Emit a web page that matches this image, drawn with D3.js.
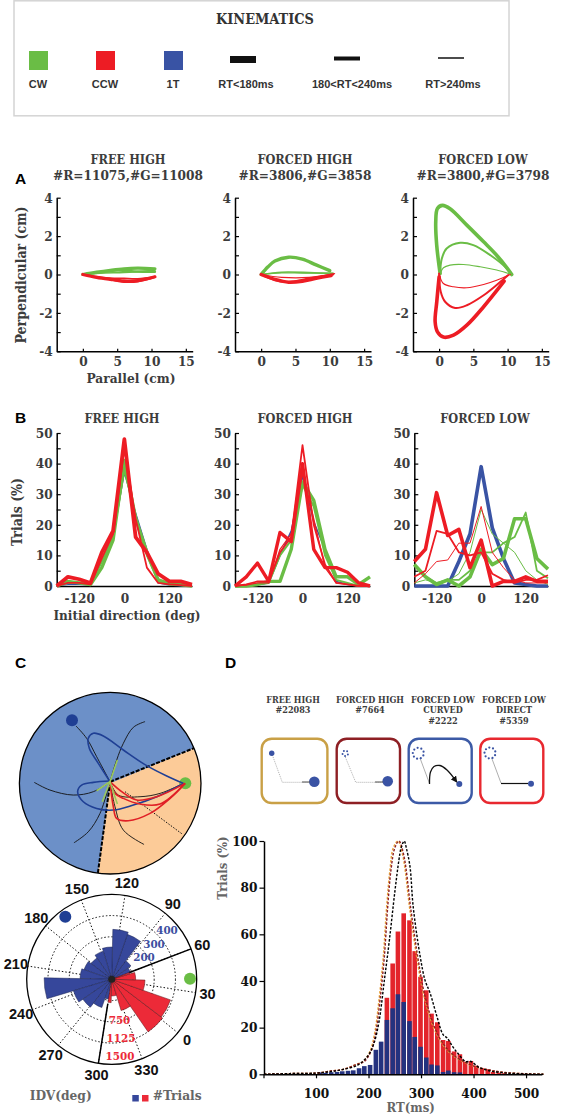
<!DOCTYPE html>
<html><head><meta charset="utf-8">
<script src="https://cdn.jsdelivr.net/npm/d3@7/dist/d3.min.js"></script>
<style>html,body{margin:0;padding:0;background:#fff}svg{display:block}</style>
</head><body><svg id="c" width="562" height="1118"></svg>
<script>
// ---------- DATA ----------
const legendSwatches = [["CW","#6abd45"],["CCW","#ed1c24"],["1T","#3953a4"]];
const legendWidths = [["RT<180ms",7],["180<RT<240ms",4],["RT>240ms",1.5]];
const panelTitles = ["FREE HIGH","FORCED HIGH","FORCED LOW"];
const panelCounts = ["#R=11075,#G=11008","#R=3806,#G=3858","#R=3800,#G=3798"];

// Panel A trajectories [parallel cm, perpendicular cm]
const freeGreenThick = [[0,0],[2,.12],[4,.22],[6,.3],[8,.33],[10.5,.3]];
const freeGreenMed = [[0,0],[2.5,.1],[5,.2],[7.5,.16],[10.5,.14]];
const freeGreenThin = [[0,0],[3,.08],[6,.1],[10.5,.22]];
const freeRedThick = [[0,0],[2,-.15],[4,-.25],[6,-.33],[8,-.32],[10.5,-.12]];
const freeRedMed = [[0,0],[3,-.2],[6,-.4],[8,-.38],[10.5,-.15]];
const freeRedThin = [[0,0],[3,-.15],[6,-.2],[8,-.22],[10.5,-.1]];
const highGreenThick = [[0,0],[1,.4],[2,.7],[4,.9],[6,.8],[8,.5],[10,.2]];
const highGreenMed = [[0,0],[3,.12],[7,.1],[10.5,.05]];
const highGreenThin = [[0,0],[3,.08],[6,.07],[10.5,.07]];
const highRedThick = [[0,0],[2,-.25],[4,-.4],[6,-.35],[8,-.2],[10.2,-.05]];
const highRedMed = [[0,0],[2,-.3],[4,-.38],[7,-.2],[10.5,0]];
const highRedThin = [[0,0],[3,-.15],[7,-.15],[10.7,.05]];
const lowGreenThick = [[.15,.05],[-.35,1.53],[-.49,2.74],[-.24,3.44],[.5,3.6],[1.6,3.42],[4.05,2.57],[6.5,1.7],[8.4,1],[9.9,.35],[10.6,0]];
const lowGreenMed = [[.15,.05],[.4,.83],[1.1,1.35],[3.07,1.65],[5,1.53],[7.5,1],[9.9,.31],[10.6,0]];
const lowGreenThin = [[.15,.05],[.63,.35],[1.6,.49],[3.56,.52],[6,.4],[8.4,.23],[10.6,0]];
const lowRedThin = [[0,.05],[.63,-.47],[2.1,-.64],[4.05,-.69],[6.5,-.52],[8.4,-.3],[10.4,0]];
const lowRedMed = [[0,.05],[.24,-.9],[.88,-1.42],[2.34,-1.74],[4.05,-1.6],[6.5,-1.08],[8.4,-.55],[10.1,-.03]];
const lowRedThick = [[0,-.12],[-.34,-1.42],[-.58,-2.46],[-.24,-2.99],[.63,-3.26],[2.1,-3.16],[4.05,-2.64],[6.5,-1.68],[9.5,-.35]];

// Panel B distributions
const dirBins = [-180,-150,-120,-90,-60,-30,0,30,60,90,120,150,180];
const bFreeBlue = [0,.5,.5,.3,8,16,37,24,12,1,.3,0,0];
const bFreeGreenThin = [0,1,1,.3,8,16,38,23,10,1.5,.5,.3,0];
const bFreeGreenThick = [0,1.5,1,.5,6,15,41,22,11,2,.8,.5,0];
const bFreeRedThin = [0,1,1,.5,9,17,45,22,6,1,.5,.3,0];
const bFreeRedThick = [0,3,2.2,1,11,18,48,16,11,4,1.5,1.5,.5];
const bHighBlue = [0,0,.5,1,10,18,36,21,12,1.5,.5,0,0];
const bHighGreenMed = [0,0,.5,1,10,15,33,26,10,2,1,0,0];
const bHighGreenThick = [0,0,.5,1.5,1.5,12,34,28,12,3,3,.5,3];
const bHighRedThin = [0,.3,1,1,12,17,37,22,6,1,.5,0,0];
const bHighRedMed = [0,.5,1.5,1.5,11,16,46,20,7,1,.5,0,0];
const bHighRedThick = [0,3,7.5,1.5,17.5,14.5,40,12,6,6,4.5,1,0];
const bLowBlue = [0,0,0,0,8,17,39,19,9,1,.5,0,0];
const bLowGreenThin = [1,2,1,1.5,4,11,25,17,14,11,5,2,.5];
const bLowGreenMed = [7,3,1,2,2,5,11,11,14,16,24,5,2.5];
const bLowGreenThick = [7,3,.5,2,0,3,12,7,9,22,22,9,5.5];
const bLowRedThin = [1,4,8,8.5,14,14,26,11,6,2,1,1,1];
const bLowRedMed = [3,5,18,17,11,10,11,4,2,1,2,2,3.5];
const bLowRedThick = [8,12,30.5,16.5,18.5,6,15,0,1.5,1.5,3,1.5,1.5];

// Panel C schematic trajectories in workspace units (circle radius 272)
const cBlue = [
 [[0,0],[-35,55],[-62,100],[-65,130],[-50,145],[-20,137],[40,95],[110,48],[170,17],[220,-5]],
 [[0,2],[-50,-2],[-85,-10],[-97,-30],[-80,-60],[-40,-80],[10,-85],[70,-70],[140,-45],[220,-5]]];
const cBlack = [
 [[-102,167],[-70,130],[-40,75],[0,0]],
 [[105,180],[70,163],[40,115],[20,65],[0,0]],
 [[-227,-2],[-180,-25],[-110,-40],[-50,-30],[0,0]],
 [[-108,-183],[-65,-150],[-30,-95],[0,0]],
 [[0,0],[15,-75],[40,-145],[102,-188]],
 [[0,0],[25,-40],[90,-45],[150,-35],[220,-5]]];
const cRed = [
 [[0,0],[15,-35],[40,-50],[90,-67],[150,-67],[225,-5]],
 [[0,0],[10,-75],[20,-110],[55,-117],[120,-95],[180,-50],[225,-5]],
 [[0,0],[35,-30],[80,-55],[140,-45],[225,-5]]];
const cGreen = [[22,65],[-40,-27],[-23,-60],[22,-67]];
const cDotted = [[45,-30],[218,-158]];

// Polar histogram (20 bins)
const polarLabels = [0,30,60,90,120,150,180,210,240,270,300,330];
const polarBlue = [0,0,0,0,94,110,224,235,152,138,122,138,149,318,188,165,141,94,0,0];
const polarRed = [1129,1100,588,423,335,0,0,0,0,0,0,0,0,0,0,0,0,412,294,576];
const blueRings = [200,300,400];
const redRings = [750,1125,1500];

// Panel D
const dTitles = [["FREE HIGH","#22083"],["FORCED HIGH","#7664"],["FORCED LOW","CURVED","#2222"],["FORCED LOW","DIRECT","#5359"]];
const dColours = ["#c9a046","#8e1f24","#3c5aa6","#e8282f"];
const rtBins = [108,118,129,140,150,161,171,182,192,203,214,224,235,246,256,267,278,288,299,310,320,331,342,352,363,374,384,395,405,416,427,437,448,459];
const rtBlue = [.8,.6,.9,1,1.3,1.5,1.7,2.6,3.5,4,10.5,14,23.3,28.3,34.3,31,22.8,16,11.8,7.2,4.2,3.8,1,1.6,.9,.8,0,0,0,0,0,0,0,0];
const rtRed = [0,0,0,0,0,0,0,0,0,0,0,0,32.8,47.5,61.2,69,66,52.8,41.8,36,26,22.3,14.7,14.3,9.8,8.6,5.4,5.7,3.7,2.6,2.2,1,.7,.5];
const rtGold = [[1,0],[50,.3],[100,.5],[130,1.5],[150,2],[180,4.5],[190,5.5],[203,10],[212,18],[220,32],[228,50],[234.6,72],[241,88],[247,97],[256,100],[265,94],[279,70],[292,50],[305,34],[324,20],[342,12.5],[361,8],[393,4],[425,2],[457,.8],[501,.2],[533,0]];
const rtDarkRed = [[1,0],[50,.3],[100,.5],[130,1.5],[150,2],[180,4.5],[192,5.5],[205,10],[214,18],[222,32],[230,50],[236.6,72],[243,88],[250,97],[258,100],[267,94],[281,70],[294,50],[307,34],[326,20],[344,12.5],[363,8],[395,4],[427,2],[459,.8],[503,.2],[533,0]];
const rtBlack = [[1,0],[50,.3],[100,.5],[130,1.2],[150,2],[180,4],[200,8.3],[210,13],[220,22.6],[230,40],[240,58],[250,78],[258,92],[262,97],[268,100],[272,97],[279,89],[285,72],[298,51],[308,40],[317,35],[330,25],[342,17],[350,15.5],[360,12],[370,9],[385,5.5],[395,5.5],[410,3],[430,1.5],[450,.8],[480,.3],[533,0]];

// ---------- DRAW ----------
const svg = d3.select("#c");
const SERIF = "'DejaVu Serif Condensed','DejaVu Serif',serif";
const SANS = "'Liberation Sans',Arial,sans-serif";
const GREEN="#6abd45", RED="#ed1c24", BLUE="#3953a4";

function text(x,y,s,o={}){
  const t = svg.append("text").attr("x",x).attr("y",y).text(s)
    .attr("font-family",o.family||SERIF).attr("font-weight",o.weight||"bold")
    .attr("font-size",o.size||13).attr("fill",o.fill||"#3c3c3c")
    .attr("text-anchor",o.anchor||"middle");
  if(o.rotate) t.attr("transform",`rotate(${o.rotate} ${x} ${y})`);
  return t;
}

// Legend
svg.append("rect").attr("x",14).attr("y",0.8).attr("width",495).attr("height",115)
  .attr("fill","#fff").attr("stroke","#d4d4d4").attr("stroke-width",1.5);
text(265,24,"KINEMATICS",{size:14.4,fill:"#333"});
legendSwatches.forEach(([n,c],i)=>{
  svg.append("rect").attr("x",[29,96,164][i]).attr("y",51).attr("width",19).attr("height",19).attr("fill",c);
  text([38,105,173][i],88,n,{family:SANS,size:11,fill:"#333"});
});
legendWidths.forEach(([n,w],i)=>{
  const x0=[230,334,438][i];
  svg.append("line").attr("x1",x0).attr("x2",x0+26).attr("y1",[59.5,58.5,58][i]).attr("y2",[59.5,58.5,58][i])
    .attr("stroke","#111").attr("stroke-width",w);
  text([246,352,453][i],88,n,{family:SANS,size:11,fill:"#333"});
});

// Panel letters
[["A",15,184],["B",15,423],["C",15,668],["D",225,668]].forEach(d=>
  text(d[1],d[2],d[0],{family:SANS,size:15.5,fill:"#000",anchor:"start"}));

// Axis styling
function styleAxis(g,size,fill){
  g.selectAll("path.domain").attr("stroke","#000").attr("stroke-width",1.5);
  g.selectAll(".tick line").attr("stroke","#000").attr("stroke-width",1.2);
  g.selectAll("text").attr("font-family",SERIF).attr("font-weight","bold")
    .attr("font-size",size).attr("fill",fill||"#3c3c3c");
}

// Panel A
const aY = d3.scaleLinear([-4,4],[351.3,197.7]);
const aRanges = [[56.7,192.7],[235,371],[413,548.7]];
const aSets = [
 [[freeGreenThin,GREEN,1.5],[freeGreenMed,GREEN,2.4],[freeGreenThick,GREEN,3.2],[freeRedThin,RED,1.5],[freeRedMed,RED,1.4],[freeRedThick,RED,3.2]],
 [[highGreenThin,GREEN,1.2],[highGreenMed,GREEN,1.6],[highGreenThick,GREEN,3.4],[highRedThin,RED,1.2],[highRedMed,RED,1.8],[highRedThick,RED,3.4]],
 [[lowGreenThin,GREEN,1.1],[lowGreenMed,GREEN,2],[lowGreenThick,GREEN,3.6],[lowRedThin,RED,1.1],[lowRedMed,RED,2],[lowRedThick,RED,3.6]]];
const aTitleX=[128,305,483];
aRanges.forEach((r,i)=>{
  const x = d3.scaleLinear([-3.81,16],r);
  const gy = svg.append("g").attr("transform",`translate(${r[0]},0)`)
    .call(d3.axisLeft(aY).tickValues(d3.range(-4,5)).tickSizeInner(-4).tickSizeOuter(0).tickPadding(4)
      .tickFormat(v=>v%2===0?String(v):""));
  styleAxis(gy,13.5);
  const gx = svg.append("g").attr("transform",`translate(0,${aY(-4)})`)
    .call(d3.axisBottom(x).tickValues([0,5,10,15]).tickSizeInner(-2.5).tickSizeOuter(0).tickPadding(5));
  styleAxis(gx,13.5);
  const line = d3.line().x(d=>x(d[0])).y(d=>aY(d[1])).curve(d3.curveCatmullRom.alpha(.5));
  aSets[i].forEach(([d,c,w])=>svg.append("path").attr("d",line(d)).attr("fill","none")
    .attr("stroke",c).attr("stroke-width",w).attr("stroke-linecap","round"));
  text(aTitleX[i],164,panelTitles[i],{size:12.6});
  text(aTitleX[i],180,panelCounts[i],{size:13.5});
});
text(131,383,"Parallel (cm)",{size:13.6});
text(26,275,"Perpendicular (cm)",{size:14,rotate:-90});

// Panel B
const bY = d3.scaleLinear([0,50],[586,433]);
const bRanges=[[56.7,192],[235,370],[414.3,548]];
const bSets=[
 [[bFreeBlue,BLUE,1.2],[bFreeGreenThin,GREEN,2],[bFreeGreenThick,GREEN,3.4],[bFreeRedThin,RED,1.8],[bFreeRedThick,RED,3.8]],
 [[bHighBlue,BLUE,1.5],[bHighGreenMed,GREEN,2],[bHighGreenThick,GREEN,3.4],[bHighRedThin,RED,1.2],[bHighRedMed,RED,1.8],[bHighRedThick,RED,3.4]],
 [[bLowBlue,BLUE,3.6],[bLowGreenThin,GREEN,1],[bLowGreenMed,GREEN,1.8],[bLowGreenThick,GREEN,3.6],[bLowRedThin,RED,1],[bLowRedMed,RED,1.8],[bLowRedThick,RED,3.6]]];
const bTitleX=[122,305,485];
bRanges.forEach((r,i)=>{
  const x=d3.scaleLinear([-180,180],r);
  const gy=svg.append("g").attr("transform",`translate(${r[0]},0)`)
    .call(d3.axisLeft(bY).tickValues(d3.range(0,51,5)).tickSizeInner(-4).tickSizeOuter(0).tickPadding(4)
      .tickFormat(v=>v%10===0?String(v):""));
  styleAxis(gy,13.5);
  const gx=svg.append("g").attr("transform",`translate(0,${bY(0)})`)
    .call(d3.axisBottom(x).tickValues([-120,0,120]).tickSizeInner(0).tickSizeOuter(0).tickPadding(7)
      .tickFormat(v=>String(v)));
  styleAxis(gx,13.5);
  const line=d3.line().x((d,j)=>x(dirBins[j])).y(d=>bY(d));
  bSets[i].forEach(([d,c,w])=>svg.append("path").attr("d",line(d)).attr("fill","none")
    .attr("stroke",c).attr("stroke-width",w).attr("stroke-linejoin","round"));
  text(bTitleX[i],423,panelTitles[i],{size:12.6});
});
text(127,620,"Initial direction (deg)",{size:13.4});
text(22,512,"Trials (%)",{size:14,rotate:-90});

// Panel C schematic
const cCx=110.2, cCy=783.2, cR=90.8;
const wx=d3.scaleLinear([-272,272],[110-cR,110+cR]);
const wy=d3.scaleLinear([-272,272],[781.7+cR,781.7-cR]);
svg.append("circle").attr("cx",cCx).attr("cy",cCy).attr("r",cR).attr("fill","#6c90c8");
const deg=Math.PI/180;
svg.append("path").attr("transform",`translate(${cCx},${cCy})`)
  .attr("d",d3.arc()({innerRadius:0,outerRadius:cR,startAngle:67.3*deg,endAngle:187.8*deg}))
  .attr("fill","#fccb98");
svg.append("circle").attr("cx",cCx).attr("cy",cCy).attr("r",cR).attr("fill","none").attr("stroke","#000").attr("stroke-width",1.3);
[67.3,187.8].forEach(a=>svg.append("line").attr("x1",cCx).attr("y1",cCy-1.5)
  .attr("x2",cCx+cR*Math.sin(a*deg)).attr("y2",cCy-cR*Math.cos(a*deg))
  .attr("stroke","#000").attr("stroke-width",2).attr("stroke-dasharray","4 1.5"));
const wl=d3.line().x(d=>wx(d[0])).y(d=>wy(d[1])).curve(d3.curveCatmullRom.alpha(.5));
cBlack.forEach(d=>svg.append("path").attr("d",wl(d)).attr("fill","none").attr("stroke","#111").attr("stroke-width",.9));
svg.append("path").attr("d",d3.line().x(d=>wx(d[0])).y(d=>wy(d[1]))(cDotted)).attr("stroke","#111").attr("stroke-width",1).attr("stroke-dasharray","1.5 1.5").attr("fill","none");
svg.append("circle").attr("cx",185.3).attr("cy",783.3).attr("r",6).attr("fill",GREEN);
svg.append("circle").attr("cx",72).attr("cy",720.3).attr("r",6).attr("fill","#1f3f94");
cBlue.forEach(d=>svg.append("path").attr("d",wl(d)).attr("fill","none").attr("stroke","#1f3f94").attr("stroke-width",1.6));
cRed.forEach(d=>svg.append("path").attr("d",wl(d)).attr("fill","none").attr("stroke","#e01f26").attr("stroke-width",1.6));
cGreen.forEach(d=>svg.append("line").attr("x1",wx(0)).attr("y1",wy(0)).attr("x2",wx(d[0])).attr("y2",wy(d[1]))
  .attr("stroke","#9cc95a").attr("stroke-width",1.6));

// Polar histogram
const pCx=111.7,pCy=979.3,pR=85;
const rBlue=d3.scaleLinear([0,400],[0,pR]), rRed=d3.scaleLinear([0,1500],[0,pR]);
const pGeom=label=>{const a=(129-label)*deg;return [Math.sin(a),-Math.cos(a)];};
const pG=svg.append("g").attr("transform",`translate(${pCx},${pCy})`);
polarLabels.forEach(l=>{
  const [sx,sy]=pGeom(l);
  pG.append("line").attr("x2",sx*pR).attr("y2",sy*pR).attr("stroke","#111").attr("stroke-width",1).attr("stroke-dasharray","1.5 2");
  svg.append("text").attr("x",pCx+sx*97).attr("y",pCy+sy*97+5).text(l)
    .attr("font-family",SANS).attr("font-weight","bold").attr("font-size",14.5).attr("fill","#111").attr("text-anchor","middle");
});
[100,200,300].forEach(v=>pG.append("circle").attr("r",rBlue(v)).attr("fill","none").attr("stroke","#111").attr("stroke-width",1).attr("stroke-dasharray","1.5 2"));
const arc=d3.arc().innerRadius(0);
polarBlue.forEach((v,i)=>{
  if(!v) return;
  const L0=Math.max(-16.3+18*i,60), L1=Math.min(-16.3+18*(i+1),300);
  pG.append("path").attr("d",arc({outerRadius:rBlue(v),startAngle:(129-L1)*deg,endAngle:(129-L0)*deg}))
    .attr("fill","#36479b").attr("stroke","#1d2450").attr("stroke-width",.5);
});
polarRed.forEach((v,i)=>{
  if(!v) return;
  let s=-16.3+18*i; if(s<180) s+=360;
  const L0=Math.max(s,300), L1=Math.min(s+18,420);
  pG.append("path").attr("d",arc({outerRadius:rRed(v),startAngle:(129-L1)*deg,endAngle:(129-L0)*deg}))
    .attr("fill","#ec2a38").attr("stroke","#5a1418").attr("stroke-width",.5);
});
pG.append("circle").attr("r",3.5).attr("fill","#222");
pG.append("circle").attr("r",pR).attr("fill","none").attr("stroke","#000").attr("stroke-width",1.3);
[[60,19],[300,25]].forEach(([l,r0])=>{const [sx,sy]=pGeom(l);
  pG.append("line").attr("x1",sx*r0).attr("y1",sy*r0).attr("x2",sx*pR).attr("y2",sy*pR).attr("stroke","#000").attr("stroke-width",1.5);});
svg.append("circle").attr("cx",190).attr("cy",978.7).attr("r",6).attr("fill",GREEN);
svg.append("circle").attr("cx",65.3).attr("cy",916.7).attr("r",6).attr("fill","#1f3f94");
blueRings.forEach((v,i)=>text([144,154,167][i],[961,948,934][i],v,{size:11.5,fill:"#3d4f9f"}));
redRings.forEach((v,i)=>text([119.5,121,120][i],[1024,1042,1060][i],v,{size:11.5,fill:"#ec2a38"}));
text(60.7,1100,"IDV(deg)",{size:13.6,fill:"#666"});
text(152.7,1100,"#Trials",{size:13.6,fill:"#666",anchor:"start"});
svg.append("rect").attr("x",132.3).attr("y",1095).attr("width",6.5).attr("height",6.5).attr("fill","#36479b");
svg.append("rect").attr("x",142).attr("y",1095).attr("width",6.5).attr("height",6.5).attr("fill","#ec2a38");

// Panel D icons
const dCentres=[293,370,443,514];
dTitles.forEach((ls,i)=>ls.forEach((s,j)=>text(dCentres[i],702.7+j*10.6,s,{size:9})));
const boxX=[[261.7,65.7],[336.7,63.3],[408.7,63],[480.3,63]];
boxX.forEach(([x,w],i)=>svg.append("rect").attr("x",x).attr("y",738.7).attr("width",w).attr("height",64.3).attr("rx",10).attr("fill","#fff").attr("stroke",dColours[i]).attr("stroke-width",2.4));
const DOT="#3a53a4";
const greyLine=(pts,dash)=>svg.append("path").attr("d",d3.line()(pts)).attr("fill","none").attr("stroke","#999").attr("stroke-width",.8).attr("stroke-dasharray",dash||null);
greyLine([[271.7,753.3],[282.3,782.3],[310,782.3]],"1 1");
greyLine([[345.3,757],[355.7,782.3],[383,782.3]],"1 1");
greyLine([[420,758],[429.3,783]]);
greyLine([[491.7,758],[501,783]]);
[[271.7,753.3,2.7],[314.3,781.7,5.3],[387.7,781.3,5.3],[459.3,784,3],[531,783.7,3]].forEach(d=>
  svg.append("circle").attr("cx",d[0]).attr("cy",d[1]).attr("r",d[2]).attr("fill",DOT));
[[345.3,753.3,2.8,5,1],[418.3,753.3,5.5,9,1.1],[490,753,5.5,9,1.1]].forEach(([cx,cy,r,n,rr])=>{
  d3.range(n).forEach(k=>svg.append("circle").attr("cx",cx+r*Math.cos(k/n*2*Math.PI+.4)).attr("cy",cy+r*Math.sin(k/n*2*Math.PI+.4)).attr("r",rr).attr("fill",DOT));
});
svg.append("defs").append("marker").attr("id","ah").attr("viewBox","0 0 6 6").attr("refX",4).attr("refY",3)
  .attr("markerWidth",5).attr("markerHeight",5).attr("orient","auto").append("path").attr("d","M0,0L6,3L0,6Z").attr("fill","#111");
svg.append("path").attr("d",d3.line().curve(d3.curveCatmullRom)([[429.5,784],[430.5,772],[434,766.5],[440,765.5],[447,770],[456,781]]))
  .attr("fill","none").attr("stroke","#111").attr("stroke-width",1.3).attr("marker-end","url(#ah)");
svg.append("line").attr("x1",501).attr("x2",528).attr("y1",783.5).attr("y2",783.5).attr("stroke","#111").attr("stroke-width",1.2);
[[302,310],[375,383]].forEach(d=>svg.append("line").attr("x1",d[0]).attr("x2",d[1]).attr("y1",782).attr("y2",782).attr("stroke","#555").attr("stroke-width",1));

// RT histogram
const hX=d3.scaleLinear([0,530],[263.5,541.8]);
const hY=d3.scaleLinear([0,100],[1074.3,841]);
const barW=4.6;
rtBins.forEach((b,i)=>{
  if(rtRed[i]>0) svg.append("rect").attr("x",hX(b)-barW/2).attr("y",hY(rtRed[i])).attr("width",barW).attr("height",hY(0)-hY(rtRed[i])).attr("fill","#e3242b");
});
rtBins.forEach((b,i)=>{
  if(rtBlue[i]>0) svg.append("rect").attr("x",hX(b)-barW/2).attr("y",hY(rtBlue[i])).attr("width",barW).attr("height",hY(0)-hY(rtBlue[i])).attr("fill","#24327f");
});
const hl=d3.line().x(d=>hX(d[0])).y(d=>hY(d[1])).curve(d3.curveCatmullRom.alpha(.5));
[[rtGold,"#e8a33d"],[rtDarkRed,"#8e1f24"],[rtBlack,"#000"]].forEach(([d,c])=>
  svg.append("path").attr("d",hl(d)).attr("fill","none").attr("stroke",c).attr("stroke-width",1.4).attr("stroke-dasharray","2.5 1.6"));
const hGy=svg.append("g").attr("transform",`translate(264,0)`)
  .call(d3.axisLeft(hY).tickValues([0,20,40,60,80,100]).tickSizeInner(4.5).tickSizeOuter(0).tickPadding(2));
styleAxis(hGy,13.5,"#111");
const hGx=svg.append("g").attr("transform",`translate(0,${hY(0)})`)
  .call(d3.axisBottom(hX).tickValues([0,100,200,300,400,500]).tickSizeInner(4).tickSizeOuter(0).tickPadding(10)
    .tickFormat(v=>v===0?"":String(v)));
styleAxis(hGx,13.5,"#111");
text(410.7,1112,"RT(ms)",{size:13,fill:"#666"});
text(227,868,"Trials (%)",{size:13,fill:"#666",rotate:-90});
</script></body></html>
